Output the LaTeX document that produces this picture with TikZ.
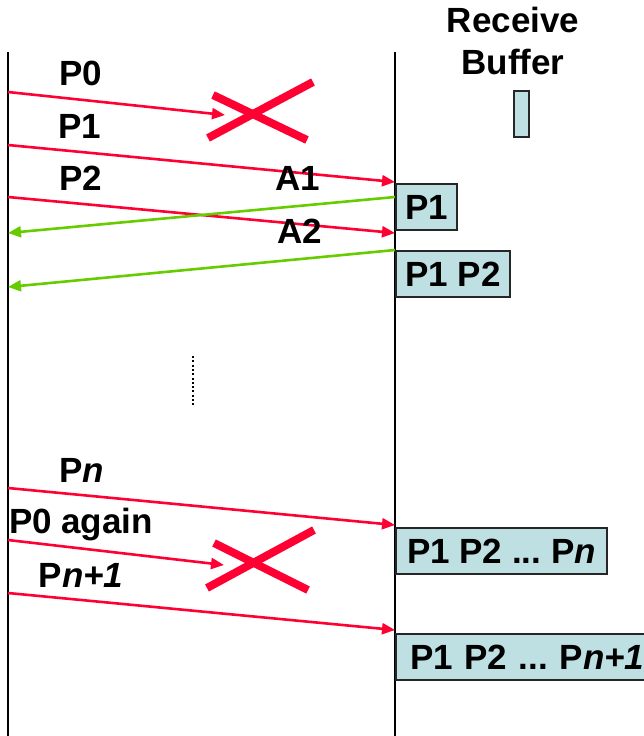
\documentclass[tikz,border=0pt]{standalone}
\usepackage{fontspec}
\setmainfont{Liberation Sans}
\usetikzlibrary{arrows.meta, positioning}

\definecolor{pktred}{RGB}{255,0,51}
\definecolor{ackgreen}{RGB}{102,204,0}
\definecolor{buffill}{RGB}{190,224,227}

\begin{document}
\begin{tikzpicture}[
        x=0.5pt, y=-0.5pt,
        every node/.style={font=\fontsize{17.5}{21}\selectfont\bfseries\frenchspacing},
        pkt/.style={-{Triangle[length=6.5pt, width=5.5pt]}, pktred, line width=1.3pt},
        ack/.style={-{Triangle[length=6.5pt, width=5.5pt]}, ackgreen, line width=1.3pt},
        lifeline/.style={black, line width=1.2pt},
        lost/.style={pktred, line width=4pt},
        bufbox/.style={draw=black!85, line width=1pt, fill=buffill, anchor=north west,
            minimum height=23pt, inner xsep=4pt}
        ]
        \useasboundingbox (0,0) rectangle (644,736);

        % Sender and receiver
        \coordinate (snd-top) at (8,52);
        \coordinate (snd-bot) at (8,736);
        \coordinate (rcv-top) at (395,52);
        \coordinate (rcv-bot) at (395,736);
        \draw[lifeline] (snd-top) -- (snd-bot);
        \draw[lifeline] (rcv-top) -- (rcv-bot);

        % Receive buffer
        \node[align=center] (buf-title) at (513,41) {Receive\\Buffer};
        \node[draw=black!85, line width=1pt, fill=buffill, minimum width=7.5pt,
            minimum height=23pt, inner sep=0pt] (buf-empty) at (521.5,114) {};

        % Packets that arrive
        \foreach \nm/\ys/\ye in {p1/145/182, p2/197/233, pn/488/525, pnn/593/630} {
                \coordinate (\nm-s) at (8,\ys);
                \coordinate (\nm-e) at (395,\ye);
                \draw[pkt] (\nm-s) -- (\nm-e);
            }

        % Packets that get lost
        \coordinate (p0-s) at (8,92);
        \coordinate (p0-e) at (225,115);
        \draw[pkt] (p0-s) -- (p0-e);
        \coordinate (p0again-s) at (8,540);
        \coordinate (p0again-e) at (224,565);
        \draw[pkt] (p0again-s) -- (p0again-e);
        \draw[lost] (213,95) -- (307,140);
        \draw[lost] (208,138) -- (313,82);
        \draw[lost] (214,543) -- (308,590);
        \draw[lost] (207,588) -- (314,530);

        % Acks
        \coordinate (a1-s) at (395,197);
        \coordinate (a1-e) at (8,233);
        \coordinate (a2-s) at (395,250);
        \coordinate (a2-e) at (8,287);
        \draw[ack] (a1-s) -- (a1-e);
        \draw[ack] (a2-s) -- (a2-e);

        % Labels
        \node[anchor=base] (lbl-p0) at (81,85) {P0};
        \node[anchor=base] (lbl-p1) at (80,138) {P1};
        \node[anchor=base] (lbl-p2) at (81,190) {P2};
        \node[anchor=base] (lbl-a1) at (298,190) {A1};
        \node[anchor=base] (lbl-a2) at (300,243) {A2};
        \node[anchor=base] (lbl-pn) at (82,482) {P\textit{n}};
        \node[anchor=base] (lbl-p0again) at (81,533) {P0 again};
        \node[anchor=base] (lbl-pnn) at (81,587) {P\textit{n+1}};

        % Buffer contents
        \node[bufbox, minimum width=30.5pt] (buf-1) at (395,183) {P1};
        \node[bufbox, minimum width=57pt] (buf-2) at (395,250) {P1 P2};
        \node[bufbox, minimum width=105.5pt] (buf-n) at (395,527) {P1 P2 ... P\textit{n}};
        \node[bufbox, inner xsep=7pt, text width=130pt, align=left] (buf-nn) at (395,633) {P1 P2 ... P\textit{n+1}};

        % Time passes
        \draw[line width=1pt, dash pattern=on 1pt off 1.15pt] (193,356) -- (193,405);

    \end{tikzpicture}
\end{document}
